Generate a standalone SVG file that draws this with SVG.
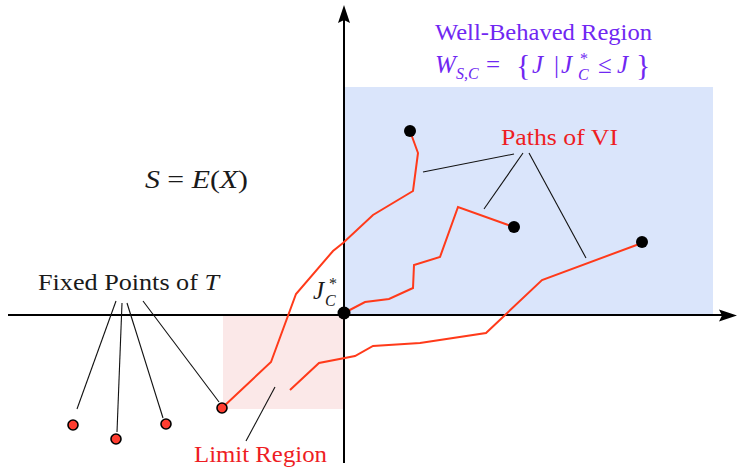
<svg xmlns="http://www.w3.org/2000/svg" width="737" height="467" viewBox="0 0 737 467">
<style>
.t{font-family:"Liberation Serif","Times New Roman",serif;font-size:23px}
.m{font-family:"Liberation Serif","Times New Roman",serif;font-size:25px}
.i{font-style:italic}
.red{fill:#ee1d23}
.pur{fill:#7027f2}
.blk{fill:#1a1a1a}
.lead{stroke:#111;stroke-width:1.1;fill:none}
.vi{stroke:#ff3a1a;stroke-width:2;fill:none;stroke-linejoin:miter}
.axis{stroke:#000;stroke-width:2;fill:none}
.end{fill:#000}
.fp{fill:#ff3d30;stroke:#000;stroke-width:1.6}
</style>
<rect width="737" height="467" fill="#fff"/>
<g id="well-behaved-region">
<rect x="344" y="87" width="369" height="228" fill="#dae5fb"/>
</g>
<g id="limit-region">
<rect x="223" y="315" width="121" height="94" fill="#fbe8e8"/>
</g>
<g id="axes">
<line class="axis" x1="8" y1="315" x2="724" y2="315"/>
<path d="M737,315.5 L719,309.5 L722,315.5 L719,321.5 Z" fill="#000"/>
<line class="axis" x1="344" y1="463" x2="344" y2="20"/>
<path d="M344,5 L338,23 L344,20 L350,23 Z" fill="#000"/>
</g>
<g id="vi-paths">
<polyline class="vi" points="222,408 271,362 296,294 333,251 343,243 373,215 413,191 418,153 410,131"/>
<polyline class="vi" points="344,313 365,302 389,299 413,288 414,265 440,257 458,207 514,227"/>
<polyline class="vi" points="290,390 319,363 355,356 373,346 420,343 486,333 542,280 642,243"/>
</g>
<g id="connectors">
<line class="lead" x1="116" y1="301" x2="77" y2="409"/>
<line class="lead" x1="122" y1="303" x2="117" y2="432"/>
<line class="lead" x1="127" y1="303" x2="163" y2="418"/>
<line class="lead" x1="143" y1="301" x2="219" y2="402"/>
<line class="lead" x1="514" y1="154" x2="423" y2="172"/>
<line class="lead" x1="523" y1="153" x2="484" y2="209"/>
<line class="lead" x1="529" y1="153" x2="586" y2="258"/>
<line class="lead" x1="275" y1="387" x2="246" y2="441"/>
</g>
<g id="endpoints">
<circle class="end" cx="410" cy="131" r="6"/>
<circle class="end" cx="514" cy="227" r="6"/>
<circle class="end" cx="642" cy="242" r="6"/>
<circle class="end" cx="344" cy="313" r="6.5"/>
</g>
<g id="fixed-points">
<circle class="fp" cx="73" cy="425" r="5"/>
<circle class="fp" cx="116" cy="439" r="5"/>
<circle class="fp" cx="166" cy="424" r="5"/>
<circle class="fp" cx="222" cy="408" r="5"/>
</g>
<g id="label-well-behaved">
<text class="t pur" x="435" y="40" textLength="217" lengthAdjust="spacingAndGlyphs">Well-Behaved Region</text>
<text class="m pur" y="73"><tspan class="i" x="435">W</tspan><tspan class="i" x="456" y="79" font-size="16">S,C</tspan><tspan x="486" y="73">=</tspan><tspan x="516" y="75" font-size="30">{</tspan><tspan class="i" x="532" y="73">J</tspan><tspan x="554">|</tspan><tspan class="i" x="561">J</tspan><tspan x="580" y="64" font-size="16">*</tspan><tspan class="i" x="578" y="80" font-size="16">C</tspan><tspan x="598" y="73">≤</tspan><tspan class="i" x="617">J</tspan><tspan x="636" y="75" font-size="30">}</tspan></text>
</g>
<g id="label-paths">
<text class="t red" x="501" y="145" textLength="117" lengthAdjust="spacingAndGlyphs">Paths of VI</text>
</g>
<g id="label-S">
<text class="m blk" x="145" y="188" textLength="103" lengthAdjust="spacingAndGlyphs"><tspan class="i">S</tspan> = <tspan class="i">E</tspan>(<tspan class="i">X</tspan>)</text>
</g>
<g id="label-fixed">
<text class="t blk" x="38" y="290" textLength="181" lengthAdjust="spacingAndGlyphs">Fixed Points of <tspan class="i">T</tspan></text>
</g>
<g id="label-Jstar">
<text class="m blk"><tspan class="i" x="313" y="299">J</tspan><tspan x="329" y="289" font-size="16">*</tspan><tspan class="i" x="325" y="306" font-size="16">C</tspan></text>
</g>
<g id="label-limit">
<text class="t red" x="194" y="462" textLength="133" lengthAdjust="spacingAndGlyphs">Limit Region</text>
</g>
</svg>
